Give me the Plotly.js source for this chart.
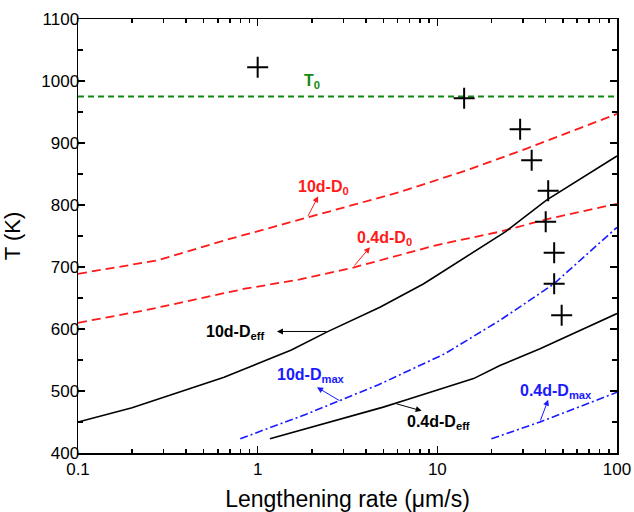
<!DOCTYPE html>
<html>
<head>
<meta charset="utf-8">
<script src="https://cdn.plot.ly/plotly-3.0.1.min.js"></script>
<style>
html,body{margin:0;padding:0;background:#fff;}
#chart{width:634px;height:512px;}
/* the reference sets the y tick labels a little closer to the axis */
#chart .yaxislayer-above g.ytick{transform:translate(6px,0);}
</style>
</head>
<body>
<div id="chart"></div>
<script>
// ---- data ----
const expRate = [1.0, 14.1, 28.9, 33.5, 41.4, 40.1, 44.7, 44.7, 49.2];
const expT    = [1022, 972, 922, 872, 823, 773, 723, 673, 622];

const T0 = 975;
const T0Range = [0.1, 100];

const d10D0Rate = [0.1, 0.28, 0.655, 1.9, 3.05, 6.2, 14.6, 31.4, 100];
const d10D0T    = [689, 711, 743, 780, 797, 821, 856, 891, 947];

const d04D0Rate = [0.1, 0.235, 0.85, 1.72, 3.4, 9.8, 22.3, 42, 100];
const d04D0T    = [610, 630, 665, 680, 699, 735, 757, 778, 802];

const d10DeffRate = [0.1, 0.2, 0.65, 1.54, 2.42, 4.79, 8.4, 24, 40.5, 100];
const d10DeffT    = [450, 473, 522, 566, 595, 635, 673, 757, 808, 879];

const d04DeffRate = [1.17, 3.18, 5.0, 6.75, 15.9, 22.3, 37.3, 100];
const d04DeffT    = [423, 458, 474, 486, 520, 541, 568, 625];

const d10DmaxRate = [0.8, 1.88, 4.7, 11.0, 22.3, 44.2, 100];
const d10DmaxT    = [423, 463, 510, 560, 614, 672, 764];

const d04DmaxRate = [20, 37.3, 100];
const d04DmaxT    = [423, 450, 498];

const xTickVals = [0.1, 1, 10, 100];
const xTickText = ['0.1', '1', '10', '100'];
const xMinorVals = [0.2,0.3,0.4,0.5,0.6,0.7,0.8,0.9,2,3,4,5,6,7,8,9,20,30,40,50,60,70,80,90];

const FONT = 'Arial, "Liberation Sans", Helvetica, sans-serif';
const RED = '#ff1a1a', BLUE = '#1a1aff', GREEN = '#108a10', BLACK = '#000000';

const traces = [
  {x: T0Range, y: [T0, T0], mode: 'lines', line: {color: GREEN, width: 2, dash: '6px,4px'}},
  {x: d10D0Rate, y: d10D0T, mode: 'lines', line: {color: RED, width: 1.8, dash: '9px,5px'}},
  {x: d04D0Rate, y: d04D0T, mode: 'lines', line: {color: RED, width: 1.8, dash: '9px,5px'}},
  {x: d10DeffRate, y: d10DeffT, mode: 'lines', line: {color: BLACK, width: 1.6}},
  {x: d04DeffRate, y: d04DeffT, mode: 'lines', line: {color: BLACK, width: 1.6}},
  {x: d10DmaxRate, y: d10DmaxT, mode: 'lines', line: {color: BLUE, width: 1.6, dash: '8px,3px,2px,3px'}},
  {x: d04DmaxRate, y: d04DmaxT, mode: 'lines', line: {color: BLUE, width: 1.6, dash: '8px,3px,2px,3px'}},
  {x: expRate, y: expT, mode: 'markers',
   marker: {symbol: 'cross-thin', size: 15, line: {color: BLACK, width: 2}}}
];

const L = Math.log10;
function label(text, x, y, color) {
  return {text: text, x: L(x), y: y, xref: 'x', yref: 'y', xanchor: 'left', yanchor: 'middle',
          showarrow: false, font: {family: FONT, size: 16, color: color}};
}
function arrow(x, y, ax, ay, color) {
  return {text: '', x: L(x), y: y, ax: L(ax), ay: ay, xref: 'x', yref: 'y', axref: 'x', ayref: 'y',
          showarrow: true, arrowhead: 2, arrowsize: 1.2, arrowwidth: 1, arrowcolor: color};
}

const annotations = [
  label('<b>T<sub>0</sub></b>', 1.76, 1000, GREEN),
  label('<b>10d-D<sub>0</sub></b>', 1.63, 828, RED),
  label('<b>0.4d-D<sub>0</sub></b>', 3.47, 746, RED),
  label('<b>10d-D<sub>eff</sub></b>', 0.50, 594, BLACK),
  label('<b>10d-D<sub>max</sub></b>', 1.25, 525, BLUE),
  label('<b>0.4d-D<sub>eff</sub></b>', 6.6, 449, BLACK),
  label('<b>0.4d-D<sub>max</sub></b>', 28.1, 500, BLUE),
  arrow(2.17, 814, 1.89, 780, RED),
  arrow(4.22, 732, 3.40, 700, RED),
  arrow(1.28, 596, 2.46, 596, BLACK),
  arrow(2.14, 506, 2.91, 483, BLUE),
  arrow(8.18, 468, 5.81, 480, BLACK),
  arrow(41.4, 486, 37.2, 450, BLUE)
];

const axisCommon = {
  showline: true, linecolor: BLACK, linewidth: 1.5, mirror: 'ticks',
  ticks: 'inside', ticklen: 7, tickwidth: 1.5, tickcolor: BLACK,
  showgrid: false, zeroline: false,
  tickfont: {family: FONT, size: 17, color: BLACK}
};

const layout = {
  width: 634, height: 512,
  margin: {l: 78, r: 17, t: 19, b: 59},
  paper_bgcolor: '#ffffff', plot_bgcolor: '#ffffff',
  showlegend: false,
  xaxis: Object.assign({}, axisCommon, {
    type: 'log', range: [-1, 2], tickmode: 'array', tickvals: xTickVals, ticktext: xTickText,
    minor: {tickmode: 'array', tickvals: xMinorVals, ticks: 'inside', ticklen: 4, tickwidth: 1.5, tickcolor: BLACK},
    title: {text: 'Lengthening rate (μm/s)', font: {family: FONT, size: 23, color: BLACK}, standoff: 14}
  }),
  yaxis: Object.assign({}, axisCommon, {
    range: [400, 1100], tickmode: 'linear', tick0: 400, dtick: 100,
    minor: {tickmode: 'linear', tick0: 450, dtick: 100, ticks: 'inside', ticklen: 5, tickwidth: 1.5, tickcolor: BLACK},
    title: {text: 'T (K)', font: {family: FONT, size: 22, color: BLACK}, standoff: 8}
  }),
  annotations: annotations
};

Plotly.newPlot('chart', traces, layout, {displayModeBar: false, staticPlot: true});
</script>
</body>
</html>
